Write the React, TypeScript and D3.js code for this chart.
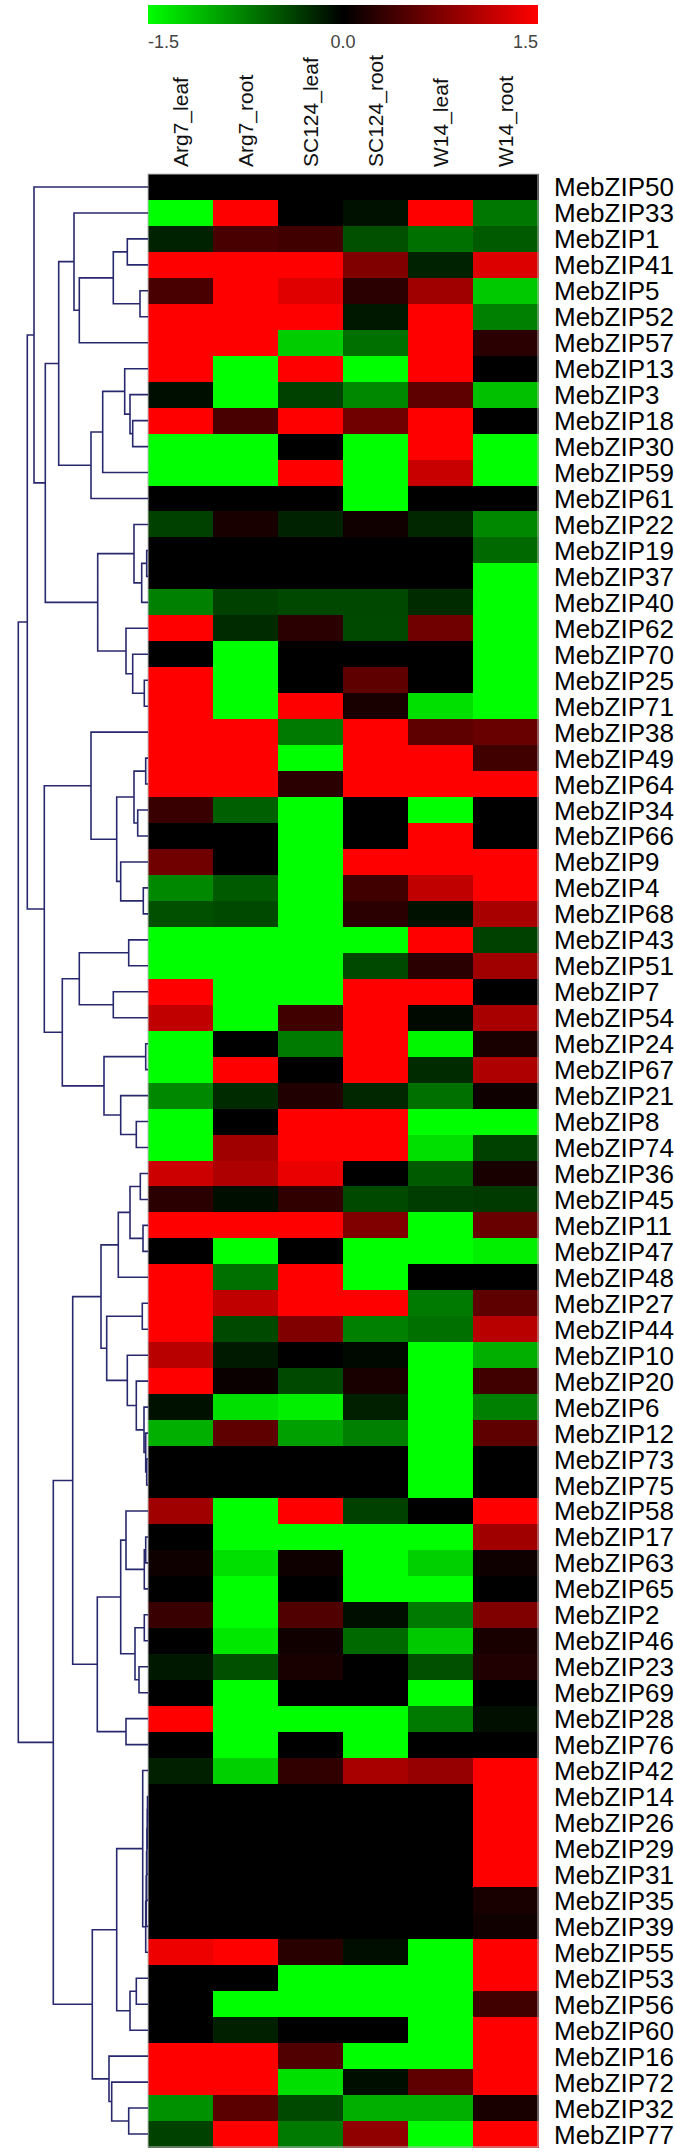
import React from "react";
import * as d3 from "d3";

const samples = ["Arg7_leaf", "Arg7_root", "SC124_leaf", "SC124_root", "W14_leaf", "W14_root"];

const genes = [
  "MebZIP50", "MebZIP33", "MebZIP1", "MebZIP41", "MebZIP5", "MebZIP52", "MebZIP57", "MebZIP13",
  "MebZIP3", "MebZIP18", "MebZIP30", "MebZIP59", "MebZIP61", "MebZIP22", "MebZIP19", "MebZIP37",
  "MebZIP40", "MebZIP62", "MebZIP70", "MebZIP25", "MebZIP71", "MebZIP38", "MebZIP49", "MebZIP64",
  "MebZIP34", "MebZIP66", "MebZIP9", "MebZIP4", "MebZIP68", "MebZIP43", "MebZIP51", "MebZIP7",
  "MebZIP54", "MebZIP24", "MebZIP67", "MebZIP21", "MebZIP8", "MebZIP74", "MebZIP36", "MebZIP45",
  "MebZIP11", "MebZIP47", "MebZIP48", "MebZIP27", "MebZIP44", "MebZIP10", "MebZIP20", "MebZIP6",
  "MebZIP12", "MebZIP73", "MebZIP75", "MebZIP58", "MebZIP17", "MebZIP63", "MebZIP65", "MebZIP2",
  "MebZIP46", "MebZIP23", "MebZIP69", "MebZIP28", "MebZIP76", "MebZIP42", "MebZIP14", "MebZIP26",
  "MebZIP29", "MebZIP31", "MebZIP35", "MebZIP39", "MebZIP55", "MebZIP53", "MebZIP56", "MebZIP60",
  "MebZIP16", "MebZIP72", "MebZIP32", "MebZIP77",
];

// expression z-scores, one row per gene, columns follow `samples`
const expression = [
  [0, 0, 0, 0, 0, 0],
  [-1.5, 1.5, 0, -0.1, 1.5, -0.7],
  [-0.2, 0.43, 0.38, -0.47, -0.66, -0.53],
  [1.5, 1.5, 1.5, 0.75, -0.2, 1.3],
  [0.43, 1.5, 1.32, 0.25, 0.94, -1.18],
  [1.5, 1.5, 1.5, -0.14, 1.5, -0.75],
  [1.5, 1.5, -1.2, -0.66, 1.5, 0.25],
  [1.5, -1.5, 1.5, -1.5, 1.5, 0],
  [-0.08, -1.5, -0.38, -0.8, 0.56, -1.13],
  [1.5, 0.43, 1.5, 0.66, 1.5, 0],
  [-1.5, -1.5, 0, -1.5, 1.5, -1.5],
  [-1.5, -1.5, 1.5, -1.5, 1.18, -1.5],
  [0, 0, 0, -1.5, 0, 0],
  [-0.38, 0.14, -0.2, 0.1, -0.23, -0.8],
  [0, 0, 0, 0, 0, -0.62],
  [0, 0, 0, 0, 0, -1.5],
  [-0.75, -0.38, -0.42, -0.42, -0.25, -1.5],
  [1.5, -0.25, 0.25, -0.43, 0.66, -1.5],
  [0, -1.5, 0, 0, 0, -1.5],
  [1.5, -1.5, 0, 0.56, 0, -1.5],
  [1.5, -1.5, 1.5, 0.15, -1.32, -1.5],
  [1.5, 1.5, -0.72, 1.5, 0.56, 0.62],
  [1.5, 1.5, -1.5, 1.5, 1.5, 0.38],
  [1.5, 1.5, 0.25, 1.5, 1.5, 1.5],
  [0.33, -0.56, -1.5, 0, -1.5, 0],
  [0, 0, -1.5, 0, 1.5, 0],
  [0.66, 0, -1.5, 1.5, 1.5, 1.5],
  [-0.8, -0.53, -1.5, 0.38, 1.13, 1.5],
  [-0.47, -0.43, -1.5, 0.25, -0.1, 0.99],
  [-1.5, -1.5, -1.5, -1.5, 1.5, -0.38],
  [-1.5, -1.5, -1.5, -0.43, 0.25, 0.94],
  [1.5, -1.5, -1.5, 1.5, 1.5, 0],
  [1.13, -1.5, 0.38, 1.5, -0.05, 0.99],
  [-1.5, 0, -0.72, 1.5, -1.45, 0.15],
  [-1.5, 1.5, 0, 1.5, -0.25, 1.03],
  [-0.8, -0.25, 0.19, -0.23, -0.66, 0.08],
  [-1.5, 0, 1.5, 1.5, -1.5, -1.5],
  [-1.5, 0.94, 1.5, 1.5, -1.32, -0.38],
  [1.2, 1.03, 1.38, 0, -0.53, 0.15],
  [0.25, -0.08, 0.28, -0.43, -0.36, -0.34],
  [1.5, 1.5, 1.5, 0.75, -1.5, 0.62],
  [0, -1.5, 0, -1.5, -1.5, -1.41],
  [1.5, -0.66, 1.5, -1.5, 0, 0],
  [1.5, 1.13, 1.5, 1.5, -0.72, 0.56],
  [1.5, -0.43, 0.75, -0.75, -0.66, 1.08],
  [1.08, -0.15, 0, -0.05, -1.5, -1.03],
  [1.5, 0.06, -0.43, 0.14, -1.5, 0.38],
  [-0.1, -1.32, -1.41, -0.19, -1.5, -0.75],
  [-1.03, 0.56, -0.94, -0.75, -1.5, 0.56],
  [0, 0, 0, 0, -1.5, 0],
  [0, 0, 0, 0, -1.5, 0],
  [0.94, -1.5, 1.5, -0.38, 0, 1.5],
  [0, -1.5, -1.5, -1.5, -1.5, 0.94],
  [0.08, -1.32, 0.08, -1.5, -1.22, 0.08],
  [0, -1.5, 0, -1.5, -1.5, 0],
  [0.33, -1.5, 0.47, -0.08, -0.72, 0.75],
  [0, -1.36, 0.1, -0.62, -1.18, 0.15],
  [-0.14, -0.47, 0.14, 0, -0.47, 0.19],
  [0, -1.5, 0, 0, -1.5, 0],
  [1.5, -1.5, -1.5, -1.5, -0.72, -0.09],
  [0, -1.5, 0, -1.5, 0, 0],
  [-0.19, -1.22, 0.28, 0.99, 0.89, 1.5],
  [0, 0, 0, 0, 0, 1.5],
  [0, 0, 0, 0, 0, 1.5],
  [0, 0, 0, 0, 0, 1.5],
  [0, 0, 0, 0, 0, 1.5],
  [0, 0, 0, 0, 0, 0.14],
  [0, 0, 0, 0, 0, 0.1],
  [1.4, 1.5, 0.24, -0.08, -1.5, 1.5],
  [0, 0, -1.5, -1.5, -1.5, 1.5],
  [0, -1.5, -1.5, -1.5, -1.5, 0.38],
  [0, -0.19, 0, 0, -1.5, 1.5],
  [1.5, 1.5, 0.47, -1.5, -1.5, 1.5],
  [1.5, 1.5, -1.32, -0.08, 0.56, 1.5],
  [-0.85, 0.53, -0.43, -1.03, -1.03, 0.14],
  [-0.38, 1.5, -0.72, 0.85, -1.5, 1.5],
];

const colorTicks = [-1.5, 0, 1.5];
const colorTickLabels = ["-1.5", "0.0", "1.5"];

// Dendrogram: node = [mergeHeight, left, right]; leaf = row index into `genes`
type Tree = number | [number, Tree, Tree];
const clusterTop: Tree = [114, 0, [102.7,
  [89.3,
    [74, 1, [68.7, [34.7, [20.7, 2, 3], [8, 4, 5]], 6]],
    [57, [45.3, [23.3, 7, [18, 8, [15.3, 9, 10]]], 11], 12]],
  [50.3,
    [14, 13, [6.3, [1.3, 14, 15], 16]],
    [22, 17, [15.3, 18, [3.7, 19, 20]]]]]];
const clusterMid: Tree = [103.7,
  [57, 21, [31.3, [14, [2.3, 22, 23], [10.3, 24, 25]], [27.3, 26, [4.7, 27, 28]]]],
  [85.7,
    [68.7, [19.3, 29, 30], [34.7, 31, 32]],
    [44, [2.3, 33, 34], [27.3, 35, [11.7, 36, 37]]]]];
const clusterLow: Tree = [75.3,
  [47,
    [29.7, [18, [7.7, 38, 39], [5, 40, 41]], 42],
    [41.3, [5.7, 43, 44], [20.7, 45, [11.7, 46, [4, 47, [2.3, 48, [1.3, 49, 50]]]]]]],
  [50.7,
    [27.3, [22, 51, [3.7, [2.3, 52, 53], 54]], [13, [3.7, 55, 56], [9, 57, 58]]],
    [22, 59, 60]]];
const clusterBottom: Tree = [55.7,
  [31.3,
    [5.3, 61, [2.3, [1.8, [1.4, [1.1, [0.8, [0.5, 62, 63], 64], 65], 66], 67], 68]],
    [18, [11.7, 69, 70], 71]],
  [39, 72, [36.3, 73, [19.3, 74, 75]]]];
const dendrogram: Tree = [129.7, [120.7, clusterTop, clusterMid], [94.7, clusterLow, clusterBottom]];

const W = 675;
const H = 2154;
const heatLeft = 148;
const heatRight = 538;
const heatTop = 174;
const heatBottom = 2147;

export default function App() {
  const xCol = d3.scaleBand<string>().domain(samples).range([heatLeft, heatRight]);
  const yRow = d3.scaleBand<string>().domain(genes).range([heatTop, heatBottom]);
  const color = d3
    .scaleLinear<string>()
    .domain([-1.5, 0, 1.5])
    .range(["#00ff00", "#000000", "#ff0000"])
    .clamp(true);
  const dendX = d3.scaleLinear().domain([0, 129.7]).range([heatLeft, 18.3]);
  const barX = d3.scaleLinear().domain([-1.5, 1.5]).range([heatLeft, heatRight]);

  const segs: string[] = [];
  const layout = (t: Tree): { x: number; y: number } => {
    if (typeof t === "number") {
      return { x: heatLeft, y: (yRow(genes[t]) as number) + yRow.bandwidth() / 2 };
    }
    const [h, l, r] = t;
    const a = layout(l);
    const b = layout(r);
    const nx = dendX(h);
    segs.push(`M${a.x},${a.y}H${nx}V${b.y}H${b.x}`);
    return { x: nx, y: (a.y + b.y) / 2 };
  };
  layout(dendrogram);

  const bw = xCol.bandwidth();
  const bh = yRow.bandwidth();
  const font = "'Liberation Sans', Arial, sans-serif";

  return (
    <svg
      width={W}
      height={H}
      style={{ position: "absolute", left: 0, top: 0, background: "#fff" }}
      fontFamily={font}
    >
      <defs>
        <linearGradient id="cbar" x1="0" x2="1" y1="0" y2="0">
          {colorTicks.map((v, i) => (
            <stop key={i} offset={`${(i / (colorTicks.length - 1)) * 100}%`} stopColor={color(v)} />
          ))}
        </linearGradient>
      </defs>
      <rect x={heatLeft} y={5} width={heatRight - heatLeft} height={19} fill="url(#cbar)" />
      {colorTicks.map((v, i) => (
        <text
          key={i}
          x={barX(v)}
          y={48}
          fontSize={18}
          fill="#444"
          textAnchor={i === 0 ? "start" : i === colorTicks.length - 1 ? "end" : "middle"}
        >
          {colorTickLabels[i]}
        </text>
      ))}
      {samples.map((s) => {
        const cx = (xCol(s) as number) + bw / 2 + 7;
        return (
          <text key={s} transform={`translate(${cx},167) rotate(-90)`} fontSize={21} fill="#111">
            {s}
          </text>
        );
      })}
      <g shapeRendering="crispEdges">
        {expression.map((row, i) =>
          row.map((v, j) => (
            <rect
              key={`${i}-${j}`}
              x={xCol(samples[j])}
              y={yRow(genes[i])}
              width={bw + 0.5}
              height={bh + 0.5}
              fill={color(v)}
            />
          ))
        )}
      </g>
      <rect
        x={heatLeft}
        y={heatTop}
        width={heatRight - heatLeft}
        height={heatBottom - heatTop}
        fill="none"
        stroke="#bbb"
        strokeWidth={1}
      />
      {genes.map((g) => (
        <text key={g} x={554} y={(yRow(g) as number) + bh / 2 + 9.5} fontSize={26} fill="#000">
          {g}
        </text>
      ))}
      <path d={segs.join("")} fill="none" stroke="#28286e" strokeWidth={1.6} />
    </svg>
  );
}
